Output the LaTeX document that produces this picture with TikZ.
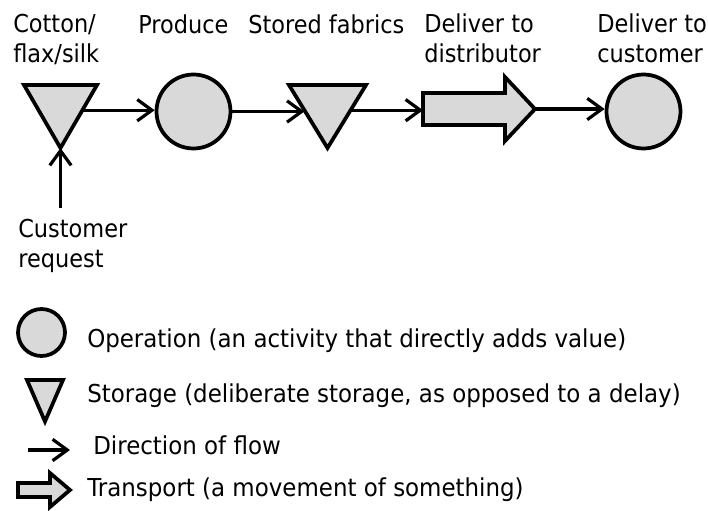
\documentclass[tikz,border=0pt]{standalone}
\usepackage{fontspec}
\setmainfont[FakeStretch=0.91]{DejaVu Sans}
\newfontfamily\legendfont[FakeStretch=0.93]{DejaVu Sans}
\usetikzlibrary{arrows.meta,calc}
\definecolor{shapegray}{HTML}{D9D9D9}
\tikzset{
  shapeline/.style={draw=black, line width=2.8pt, fill=shapegray, line join=miter},
  flow/.style={line width=2.4pt, -{Straight Barb[length=11pt,width=16pt]}},
  lab/.style={font=\fontsize{18.5pt}{22pt}\selectfont, inner sep=0pt, anchor=base west, align=left},
  leglab/.style={lab, font=\legendfont\fontsize{18.5pt}{22pt}\selectfont},
  opcircle/.style={circle, shapeline, minimum size=55.5pt, inner sep=0pt},
}
\begin{document}
\begin{tikzpicture}[x=0.75pt,y=-0.75pt]
\useasboundingbox (0,0) rectangle (708,511);
% main row
\coordinate (t1l) at (24,85);
\coordinate (t1r) at (97,85);
\coordinate (t1a) at (60.5,148);
\draw[shapeline] (t1l) -- (t1r) -- (t1a) -- cycle;
\coordinate (t1out) at ($(t1r)!0.4!(t1a)$);
\node[opcircle] (c1) at (193.5,111.5) {};
\coordinate (t2l) at (289,85);
\coordinate (t2r) at (366,85);
\coordinate (t2a) at (327.5,148);
\draw[shapeline] (t2l) -- (t2r) -- (t2a) -- cycle;
\coordinate (t2in) at ($(t2l)!0.4!(t2a)$);
\coordinate (t2out) at ($(t2r)!0.4!(t2a)$);
\draw[shapeline] (423,93) -- (505,93) -- (505,77) -- (535,109) -- (505,141) -- (505,125) -- (423,125) -- cycle;
\coordinate (b1in) at (423,110);
\coordinate (b1tip) at (535,109);
\node[opcircle] (c2) at (643.5,111.5) {};
\coordinate (req) at (60.5,208);
% connectors
\draw[flow] (t1out) -- (t1out -| c1.west);
\draw[flow] (c1.east) -- (c1.east -| t2in);
\draw[flow] (t2out) -- (t2out -| b1in);
\draw[flow] (b1tip) -- (b1tip -| c2.west);
\draw[flow] (req) -- (t1a);
% labels (anchor = baseline of last line)
\node[lab] (lcot) at (13,62) {Cotton/\\flax/silk};
\node[lab] (lpro) at (138,33) {Produce};
\node[lab] (lsto) at (248,33) {Stored fabrics};
\node[lab] (ldis) at (424,62) {Deliver to\\distributor};
\node[lab] (lcus) at (597,62) {Deliver to\\customer};
\node[lab] (lreq) at (18,267) {Customer\\request};
% legend
\node[circle, shapeline, minimum size=35.25pt, inner sep=0pt] (lgc) at (41.5,332.5) {};
\draw[shapeline] (27,380) -- (63,380) -- (45,421.5) -- cycle;
\coordinate (lga1) at (28,450);
\coordinate (lga2) at (70,450);
\draw[flow] (lga1) -- (lga2);
\draw[shapeline] (18,483) -- (50,483) -- (50,473) -- (70,490) -- (50,507) -- (50,497) -- (18,497) -- cycle;
\node[leglab] (lg1) at (87,347) {Operation (an activity that directly adds value)};
\node[leglab] (lg2) at (87,402) {Storage (deliberate storage, as opposed to a delay)};
\node[leglab] (lg3) at (93,454) {Direction of flow};
\node[leglab] (lg4) at (87,496) {Transport (a movement of something)};
\end{tikzpicture}
\end{document}
